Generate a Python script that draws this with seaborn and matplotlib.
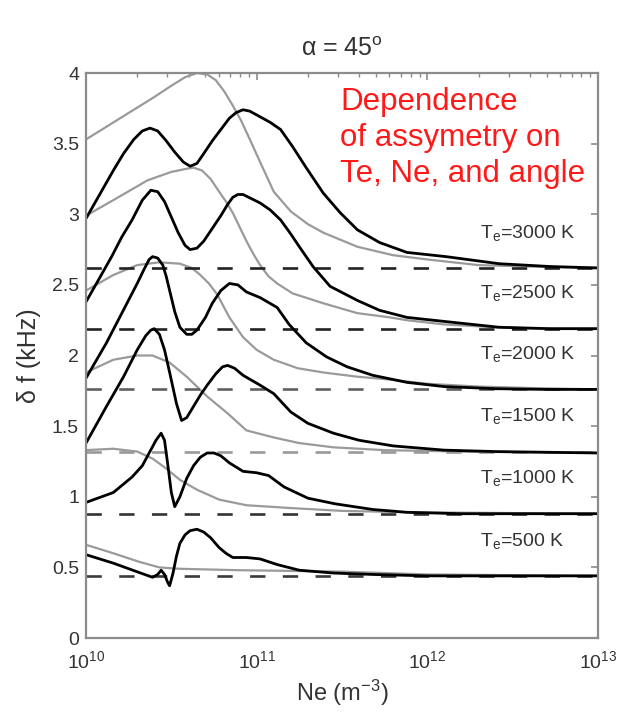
import numpy as np
import matplotlib
matplotlib.use('Agg')
import matplotlib.pyplot as plt
import seaborn as sns
from matplotlib.ticker import LogLocator, NullFormatter

# baselines (dashed) and label levels for each Te
temps = [500, 1000, 1500, 2000, 2500, 3000]
base = [0.44, 0.88, 1.32, 1.76, 2.19, 2.62]
dash_col = ['#3a3a3a', '#333333', '#999999', '#606060', '#222222', '#222222']

# curves: u = log10(Ne) - 10, v = delta f (kHz)
b3000_u = [0.0, 0.08, 0.16, 0.22, 0.28, 0.33, 0.375, 0.42, 0.47, 0.52, 0.57, 0.61, 0.65, 0.69, 0.74, 0.79, 0.84, 0.88, 0.92, 0.96, 1.02, 1.08, 1.14, 1.21, 1.29, 1.39, 1.49, 1.59, 1.72, 1.88, 2.11, 2.42, 2.72, 3.0]
b3000_v = [2.97, 3.14, 3.31, 3.43, 3.53, 3.59, 3.61, 3.59, 3.52, 3.44, 3.37, 3.34, 3.36, 3.43, 3.52, 3.60, 3.68, 3.72, 3.74, 3.73, 3.69, 3.65, 3.60, 3.48, 3.33, 3.15, 3.01, 2.89, 2.80, 2.73, 2.70, 2.65, 2.63, 2.62]
g3000_u = [0.0, 0.2, 0.4, 0.5, 0.58, 0.65, 0.71, 0.76, 0.81, 0.86, 0.91, 0.96, 1.02, 1.1, 1.2, 1.3, 1.39, 1.59, 1.8, 2.0, 2.3, 2.6, 3.0]
g3000_v = [3.53, 3.68, 3.83, 3.91, 3.97, 4.0, 3.99, 3.95, 3.87, 3.77, 3.66, 3.53, 3.37, 3.16, 3.02, 2.93, 2.87, 2.77, 2.71, 2.68, 2.64, 2.63, 2.62]

b2500_u = [0.0, 0.08, 0.15, 0.21, 0.27, 0.33, 0.38, 0.42, 0.46, 0.50, 0.54, 0.58, 0.61, 0.65, 0.69, 0.74, 0.79, 0.83, 0.86, 0.89, 0.92, 0.97, 1.02, 1.08, 1.14, 1.20, 1.25, 1.33, 1.43, 1.59, 1.72, 1.88, 2.11, 2.42, 2.72, 3.0]
b2500_v = [2.38, 2.55, 2.70, 2.84, 2.96, 3.10, 3.17, 3.16, 3.09, 2.98, 2.87, 2.78, 2.75, 2.76, 2.81, 2.90, 2.99, 3.07, 3.12, 3.14, 3.14, 3.11, 3.08, 3.03, 2.96, 2.86, 2.77, 2.63, 2.49, 2.39, 2.32, 2.27, 2.24, 2.20, 2.19, 2.19]
g2500_u = [0.0, 0.16, 0.36, 0.5, 0.58, 0.63, 0.68, 0.73, 0.78, 0.82, 0.86, 0.90, 0.94, 0.98, 1.02, 1.07, 1.12, 1.21, 1.39, 1.59, 1.78, 1.88, 2.1, 2.4, 2.7, 3.0]
g2500_v = [2.99, 3.10, 3.24, 3.30, 3.32, 3.33, 3.31, 3.25, 3.16, 3.09, 3.01, 2.91, 2.81, 2.72, 2.64, 2.56, 2.51, 2.44, 2.37, 2.30, 2.27, 2.25, 2.22, 2.20, 2.19, 2.19]

b2000_u = [0.0, 0.12, 0.24, 0.30, 0.34, 0.37, 0.39, 0.42, 0.45, 0.47, 0.49, 0.52, 0.55, 0.59, 0.62, 0.65, 0.70, 0.74, 0.79, 0.84, 0.89, 0.94, 1.02, 1.12, 1.19, 1.29, 1.41, 1.53, 1.68, 1.88, 2.1, 2.4, 2.7, 3.0]
b2000_v = [1.84, 2.09, 2.37, 2.51, 2.61, 2.68, 2.70, 2.69, 2.64, 2.56, 2.46, 2.31, 2.20, 2.15, 2.15, 2.18, 2.27, 2.37, 2.46, 2.51, 2.50, 2.45, 2.41, 2.34, 2.22, 2.09, 1.99, 1.92, 1.86, 1.81, 1.78, 1.765, 1.76, 1.76]
g2000_u = [0.0, 0.16, 0.3, 0.43, 0.55, 0.62, 0.67, 0.72, 0.77, 0.84, 0.92, 1.0, 1.1, 1.24, 1.39, 1.59, 1.78, 2.0, 2.3, 2.6, 3.0]
g2000_v = [2.46, 2.57, 2.64, 2.66, 2.65, 2.62, 2.57, 2.51, 2.43, 2.27, 2.13, 2.04, 1.97, 1.91, 1.88, 1.85, 1.83, 1.80, 1.78, 1.77, 1.76]

b1500_u = [0.0, 0.12, 0.22, 0.30, 0.35, 0.38, 0.40, 0.43, 0.46, 0.49, 0.53, 0.56, 0.59, 0.63, 0.67, 0.71, 0.76, 0.80, 0.83, 0.87, 0.92, 1.02, 1.1, 1.2, 1.3, 1.45, 1.6, 1.8, 2.1, 2.4, 3.0]
b1500_v = [1.38, 1.64, 1.85, 2.04, 2.14, 2.18, 2.19, 2.15, 2.04, 1.88, 1.66, 1.54, 1.56, 1.64, 1.72, 1.79, 1.87, 1.92, 1.93, 1.91, 1.86, 1.79, 1.73, 1.60, 1.52, 1.45, 1.40, 1.36, 1.33, 1.32, 1.31]
g1500_u = [0.0, 0.16, 0.3, 0.39, 0.49, 0.59, 0.71, 0.83, 0.94, 1.1, 1.25, 1.45, 1.75, 2.2, 3.0]
g1500_v = [1.88, 1.97, 2.00, 2.00, 1.95, 1.85, 1.71, 1.59, 1.47, 1.42, 1.38, 1.35, 1.33, 1.32, 1.31]

b1000_u = [0.0, 0.16, 0.27, 0.33, 0.37, 0.41, 0.44, 0.46, 0.48, 0.50, 0.52, 0.55, 0.59, 0.63, 0.67, 0.71, 0.75, 0.79, 0.84, 0.92, 1.0, 1.07, 1.16, 1.3, 1.46, 1.68, 1.88, 2.2, 3.0]
b1000_v = [0.96, 1.03, 1.14, 1.22, 1.31, 1.40, 1.45, 1.40, 1.22, 1.03, 0.93, 1.00, 1.13, 1.22, 1.28, 1.31, 1.31, 1.29, 1.24, 1.18, 1.17, 1.15, 1.07, 0.99, 0.95, 0.91, 0.89, 0.88, 0.88]
g1000_u = [0.0, 0.16, 0.3, 0.39, 0.47, 0.55, 0.65, 0.78, 0.94, 1.2, 1.5, 1.9, 3.0]
g1000_v = [1.33, 1.34, 1.32, 1.27, 1.20, 1.12, 1.05, 0.98, 0.94, 0.92, 0.90, 0.89, 0.88]

b500_u = [0.0, 0.16, 0.32, 0.39, 0.42, 0.44, 0.46, 0.48, 0.49, 0.51, 0.53, 0.55, 0.58, 0.61, 0.65, 0.69, 0.73, 0.78, 0.82, 0.86, 0.94, 1.02, 1.12, 1.25, 1.45, 1.68, 2.0, 3.0]
b500_v = [0.59, 0.53, 0.46, 0.43, 0.45, 0.48, 0.45, 0.39, 0.37, 0.46, 0.58, 0.67, 0.73, 0.76, 0.77, 0.75, 0.71, 0.64, 0.60, 0.57, 0.57, 0.56, 0.52, 0.48, 0.46, 0.45, 0.44, 0.44]
g500_u = [0.0, 0.16, 0.31, 0.43, 0.55, 0.9, 1.5, 2.0, 3.0]
g500_v = [0.66, 0.60, 0.54, 0.50, 0.49, 0.48, 0.47, 0.45, 0.44]

black = [(b500_u, b500_v), (b1000_u, b1000_v), (b1500_u, b1500_v),
         (b2000_u, b2000_v), (b2500_u, b2500_v), (b3000_u, b3000_v)]
gray = [(g500_u, g500_v), (g1000_u, g1000_v), (g1500_u, g1500_v),
        (g2000_u, g2000_v), (g2500_u, g2500_v), (g3000_u, g3000_v)]

sns.set_style('white')
plt.rcParams['font.family'] = ['Liberation Sans', 'DejaVu Sans']
plt.rcParams['mathtext.default'] = 'regular'
txt = '#333333'

fig = plt.figure(figsize=(6.21, 7.18), dpi=100)
ax = fig.add_axes([0.1385, 0.1114, 0.8245, 0.7869])

for u, v in gray:
    sns.lineplot(x=10 ** (10 + np.array(u)), y=v, ax=ax, color='#9a9a9a', lw=1.6, estimator=None)
for b, c in zip(base, dash_col):
    ax.plot([1e10, 1e13], [b, b], color=c, lw=1.9, dashes=(5.8, 6.6))
for u, v in black:
    sns.lineplot(x=10 ** (10 + np.array(u)), y=v, ax=ax, color='black', lw=2.0, estimator=None)
for line in ax.lines:
    line.set_solid_joinstyle('round')

for t, b in zip(temps, base):
    ax.text(10 ** 12.31, b + 0.25, 'T$_e$=%d K' % t, fontsize=14, color=txt, va='center', ha='left')

ax.text(10 ** 11.49, 3.90, 'Dependence\nof assymetry on\nTe, Ne, and angle', color='#ff1a1a',
        fontsize=22.5, va='top', ha='left', linespacing=1.26)

ax.set_xscale('log')
ax.set_xlim(1e10, 1e13)
ax.set_ylim(0, 4)
ax.set_xticks([1e10, 1e11, 1e12, 1e13])
ax.xaxis.set_minor_locator(LogLocator(base=10, subs=np.arange(2, 10)))
ax.xaxis.set_minor_formatter(NullFormatter())
ax.set_yticks([0, 0.5, 1, 1.5, 2, 2.5, 3, 3.5, 4])
ax.set_yticklabels(['0', '0.5', '1', '1.5', '2', '2.5', '3', '3.5', '4'])

for s in ax.spines.values():
    s.set_color('#8c8c8c')
    s.set_linewidth(1.6)
ax.tick_params(which='both', direction='in', top=True, right=True, color='#8c8c8c',
               labelcolor=txt, labelsize=14)
ax.tick_params(which='major', length=5, width=1.2)
ax.tick_params(which='minor', length=3, width=1.0)
ax.tick_params(axis='x', pad=9)
ax.tick_params(axis='y', pad=5)

ax.set_xlabel('Ne (m$^{-3}$)', fontsize=17, color=txt, labelpad=4)
ax.set_ylabel('δ f (kHz)', fontsize=18, color=txt, labelpad=8)
ax.set_title(r'$\alpha$ = 45$^{o}$', fontsize=18, color=txt, pad=12)

fig.savefig('out.png', dpi=100)
